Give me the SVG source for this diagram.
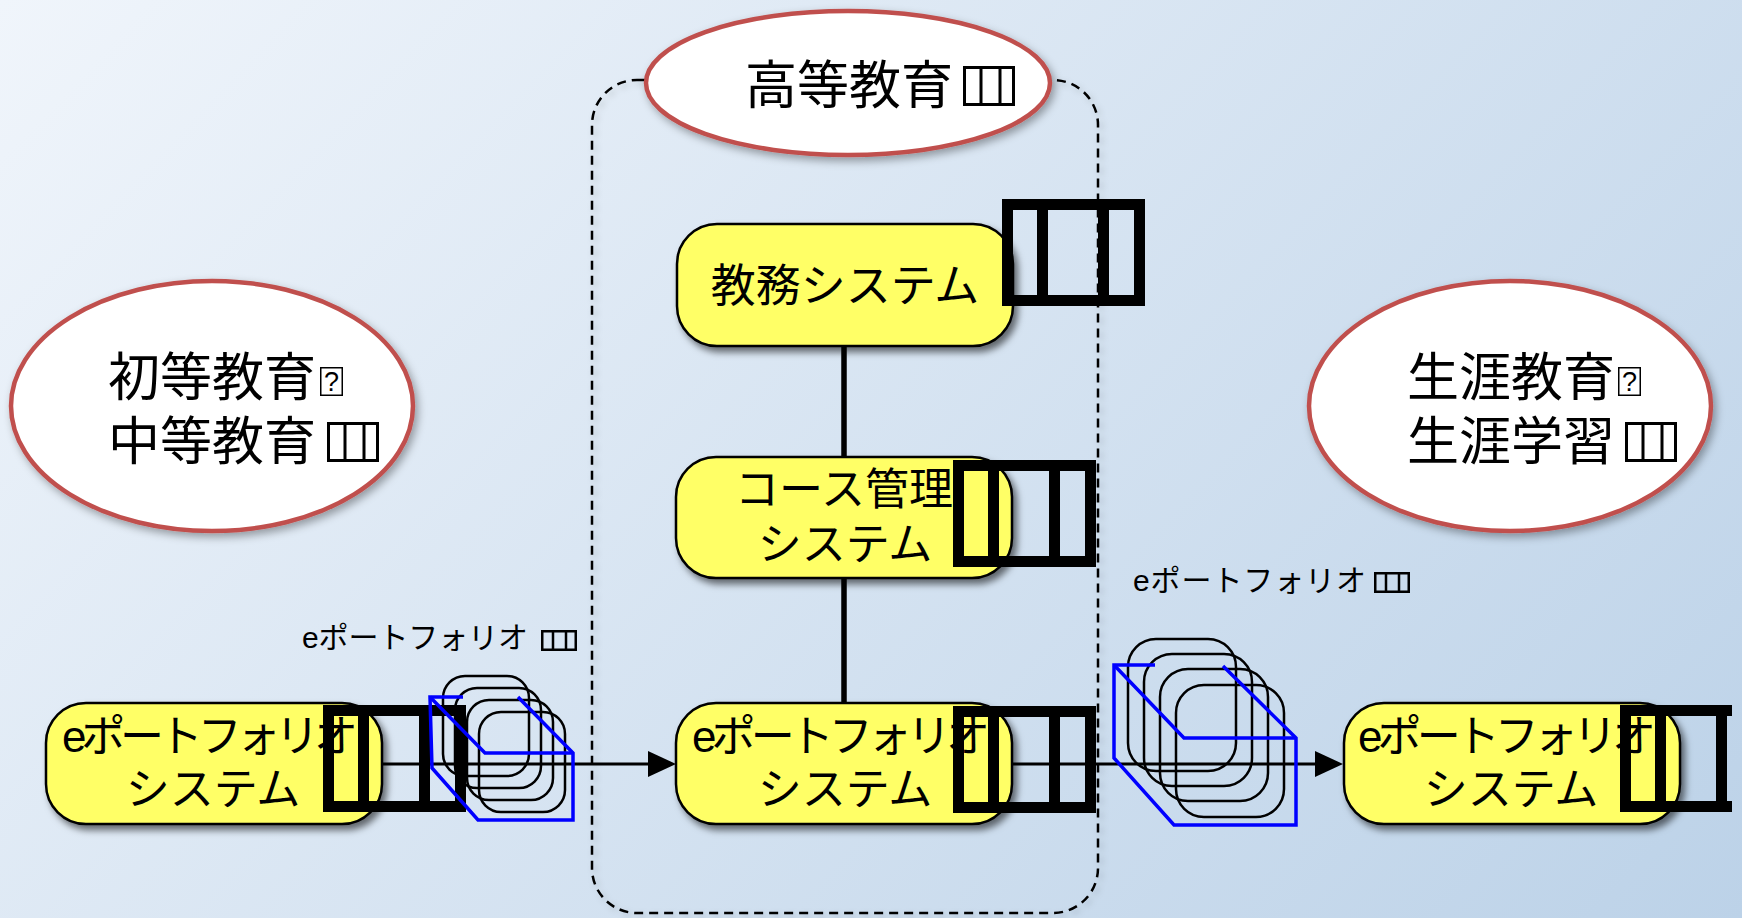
<svg xmlns="http://www.w3.org/2000/svg" xmlns:xlink="http://www.w3.org/1999/xlink" width="1742" height="918" viewBox="0 0 1742 918">
  <defs>
    <linearGradient id="bg" gradientUnits="userSpaceOnUse" x1="0" y1="0" x2="1374" y2="1305">
      <stop offset="0" stop-color="#f0f5fb"/>
      <stop offset="1" stop-color="#bcd2e8"/>
    </linearGradient>
    <filter id="shadow" x="-10%" y="-10%" width="125%" height="130%">
      <feDropShadow dx="4" dy="5" stdDeviation="3.5" flood-color="#000" flood-opacity="0.55"/>
    </filter>
    <filter id="soft-shadow" x="-10%" y="-10%" width="125%" height="130%">
      <feDropShadow dx="3" dy="4" stdDeviation="4" flood-color="#000" flood-opacity="0.35"/>
    </filter>
    <filter id="faint-shadow" x="-5%" y="-5%" width="110%" height="110%">
      <feDropShadow dx="3" dy="3" stdDeviation="3" flood-color="#000" flood-opacity="0.18"/>
    </filter>
    <marker id="arrowhead" viewBox="0 0 28 26" refX="0" refY="13" markerWidth="28" markerHeight="26" markerUnits="userSpaceOnUse" orient="auto">
      <path d="M0,0 L28,13 L0,26 Z" fill="#000"/>
    </marker>
    <!-- missing-glyph boxes -->
    <g id="tofu-big">
      <path d="M5.5,5.5 H137.5 V101.5 H5.5 Z M40.5,5.5 V101.5 M101.5,5.5 V101.5" fill="none" stroke="#000" stroke-width="11" stroke-linejoin="miter"/>
    </g>
    <g id="tofu-mid">
      <path d="M1.5,1.5 H50.5 V38.5 H1.5 Z M18,1.5 V38.5 M37,1.5 V38.5" fill="none" stroke="#000" stroke-width="3"/>
    </g>
    <g id="tofu-small">
      <path d="M1.25,1.25 H34.75 V19.75 H1.25 Z M12,1.25 V19.75 M25,1.25 V19.75" fill="none" stroke="#000" stroke-width="2.5"/>
    </g>
    <g id="qbox">
      <rect x="0.75" y="0.75" width="21.5" height="27.5" fill="none" stroke="#000" stroke-width="1.5"/>
      <text x="11.5" y="24" class="q">?</text>
    </g>
    <clipPath id="clip-right">
      <rect x="0" y="0" width="1732" height="918"/>
    </clipPath>
    <style>
      .oval { fill: #fff; stroke: #c0504d; stroke-width: 4.5; filter: url(#soft-shadow); }
      .box { fill: #ffff66; stroke: #000; stroke-width: 2.5; filter: url(#shadow); }
      .jp { font-family: "Liberation Sans", "Noto Sans CJK JP", sans-serif; fill: #000; }
      .big { font-size: 52px; }
      .mid { font-size: 44px; }
      .lbl { font-size: 30px; }
      .c { text-anchor: middle; }
      .q { font-family: "Liberation Sans", sans-serif; font-size: 27px; text-anchor: middle; fill: #000; }
      .link { stroke: #000; stroke-width: 5.5; fill: none; }
      .flow { stroke: #000; stroke-width: 3; fill: none; marker-end: url(#arrowhead); }
      .doc { fill: none; stroke: #000; stroke-width: 2.5; }
      .tray { fill: none; stroke: #0000ff; stroke-width: 3.5; stroke-linejoin: miter; }
    </style>
  </defs>

  <!-- background -->
  <rect x="0" y="0" width="1742" height="918" fill="url(#bg)"/>

  <!-- higher-education boundary -->
  <rect id="higher-education-frame" x="592" y="80" width="506" height="833" rx="45" ry="45" fill="none" stroke="#000" stroke-width="2.5" stroke-dasharray="9 6" filter="url(#faint-shadow)"/>

  <!-- connectors -->
  <g id="connectors">
    <line class="link" x1="844" y1="346" x2="844" y2="458"/>
    <line class="link" x1="844" y1="578" x2="844" y2="704"/>
    <line class="flow" x1="380" y1="764" x2="648" y2="764"/>
    <line class="flow" x1="1010" y1="764" x2="1315" y2="764"/>
  </g>

  <!-- stage ovals -->
  <g id="node-primary-secondary">
    <ellipse class="oval" cx="212" cy="406" rx="201" ry="125"/>
    <text class="jp big" x="108" y="396">初等教育</text>
    <use href="#qbox" x="320" y="367"/>
    <text class="jp big" x="108" y="460">中等教育</text>
    <use href="#tofu-mid" x="327" y="422"/>
  </g>

  <g id="node-higher">
    <ellipse class="oval" cx="848" cy="83" rx="202" ry="72"/>
    <text class="jp big" x="745" y="104">高等教育</text>
    <use href="#tofu-mid" x="963" y="66"/>
  </g>

  <g id="node-lifelong">
    <ellipse class="oval" cx="1510" cy="406" rx="201" ry="125"/>
    <text class="jp big" x="1407" y="396">生涯教育</text>
    <use href="#qbox" x="1618" y="367"/>
    <text class="jp big" x="1407" y="460">生涯学習</text>
    <use href="#tofu-mid" x="1625" y="422"/>
  </g>

  <!-- systems -->
  <g id="node-academic-affairs">
    <rect class="box" x="677" y="224" width="336" height="122" rx="40" ry="40"/>
    <text class="jp c" x="845" y="302" font-size="45">教務システム</text>
    <use href="#tofu-big" x="1002" y="199"/>
  </g>

  <g id="node-course-management">
    <rect class="box" x="676" y="457" width="336" height="121" rx="40" ry="40"/>
    <text class="jp mid c" x="844" y="505">コース管理</text>
    <text class="jp mid c" x="845" y="560">システム</text>
    <use href="#tofu-big" x="953" y="460"/>
  </g>

  <g id="node-eportfolio-left">
    <rect class="box" x="46" y="703" width="336" height="121" rx="40" ry="40"/>
    <text class="jp mid c" x="210" y="752" textLength="296">eポートフォリオ</text>
    <text class="jp mid c" x="213" y="805">システム</text>
    <use href="#tofu-big" x="323" y="705"/>
  </g>

  <g id="node-eportfolio-center">
    <rect class="box" x="676" y="703" width="336" height="121" rx="40" ry="40"/>
    <text class="jp mid c" x="841" y="752" textLength="298">eポートフォリオ</text>
    <text class="jp mid c" x="845" y="805">システム</text>
    <use href="#tofu-big" x="953" y="706"/>
  </g>

  <g id="node-eportfolio-right">
    <rect class="box" x="1344" y="703" width="336" height="121" rx="40" ry="40"/>
    <text class="jp mid c" x="1507" y="752" textLength="298">eポートフォリオ</text>
    <text class="jp mid c" x="1511" y="805">システム</text>
    <g clip-path="url(#clip-right)">
      <use href="#tofu-big" x="1620" y="705"/>
    </g>
  </g>

  <!-- portfolio hand-over: left -->
  <g id="packet-left">
    <rect class="doc" x="443" y="676" width="86" height="100" rx="22"/>
    <rect class="doc" x="455" y="688" width="86" height="100" rx="22"/>
    <rect class="doc" x="467" y="700" width="86" height="100" rx="22"/>
    <rect class="doc" x="479" y="712" width="86" height="100" rx="22"/>
    <path class="tray" d="M463,697 H430 L432,768 L478,820 H573 V753 L518,697"/>
    <path class="tray" d="M430,697 L485,753 H573"/>
    <text class="jp lbl" x="302" y="648" textLength="226">eポートフォリオ</text>
    <use href="#tofu-small" x="541" y="630"/>
  </g>

  <!-- portfolio hand-over: right -->
  <g id="packet-right">
    <rect class="doc" x="1128" y="639" width="108" height="132" rx="28"/>
    <rect class="doc" x="1144" y="654" width="108" height="132" rx="28"/>
    <rect class="doc" x="1160" y="669" width="108" height="132" rx="28"/>
    <rect class="doc" x="1176" y="685" width="108" height="132" rx="28"/>
    <path class="tray" d="M1155,665 H1114 V758 L1174,825 H1296 V738 L1223,666"/>
    <path class="tray" d="M1114,665 L1184,738 H1296"/>
    <text class="jp lbl" x="1133" y="591" textLength="233">eポートフォリオ</text>
    <use href="#tofu-small" x="1374" y="572"/>
  </g>
</svg>
